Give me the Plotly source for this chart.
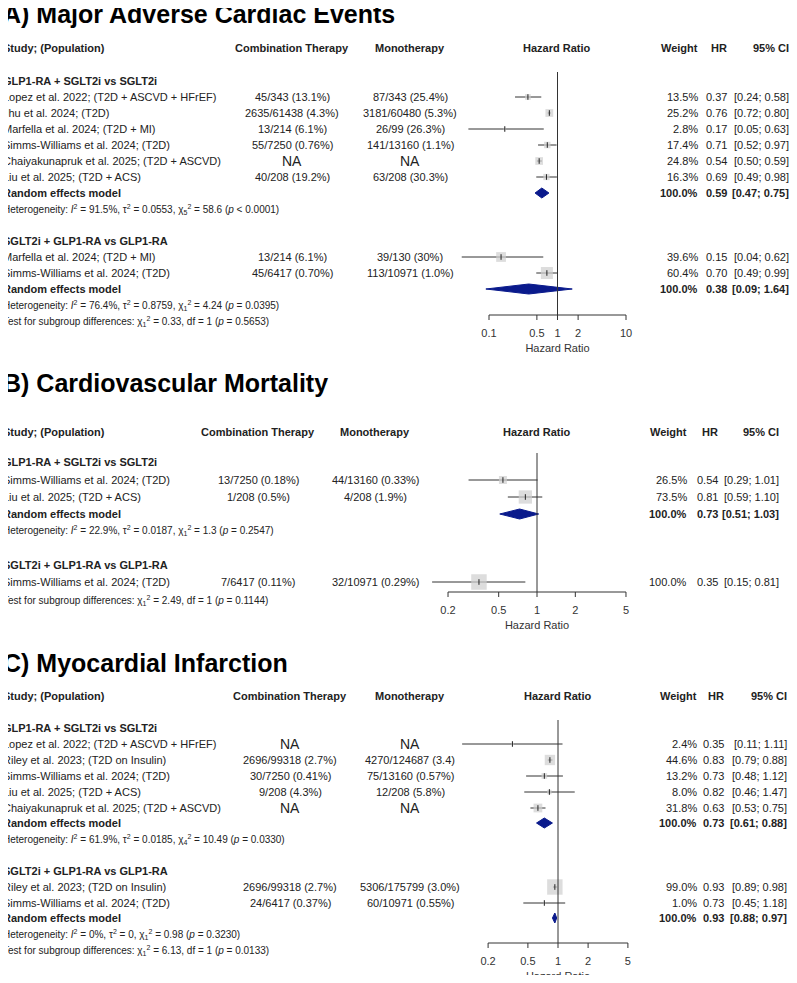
import numpy as np
import plotly.graph_objects as go

W, H = 797, 983
OFF = 8  # browser body margin

# ---------------- data ----------------
# A) MACE
a_g1_study = ["Lopez et al. 2022; (T2D + ASCVD + HFrEF)", "Jhu et al. 2024; (T2D)", "Marfella et al. 2024; (T2D + MI)",
              "Simms-Williams et al. 2024; (T2D)", "Chaiyakunapruk et al. 2025; (T2D + ASCVD)", "Liu et al. 2025; (T2D + ACS)"]
a_g1_combo = ["45/343 (13.1%)", "2635/61438 (4.3%)", "13/214 (6.1%)", "55/7250 (0.76%)", "NA", "40/208 (19.2%)"]
a_g1_mono = ["87/343 (25.4%)", "3181/60480 (5.3%)", "26/99 (26.3%)", "141/13160 (1.1%)", "NA", "63/208 (30.3%)"]
a_g1_w = [13.5, 25.2, 2.8, 17.4, 24.8, 16.3]
a_g1_hr = [0.37, 0.76, 0.17, 0.71, 0.54, 0.69]
a_g1_lo = [0.24, 0.72, 0.05, 0.52, 0.50, 0.49]
a_g1_hi = [0.58, 0.80, 0.63, 0.97, 0.59, 0.98]
a_g1_re = [0.59, 0.47, 0.75]
a_g2_study = ["Marfella et al. 2024; (T2D + MI)", "Simms-Williams et al. 2024; (T2D)"]
a_g2_combo = ["13/214 (6.1%)", "45/6417 (0.70%)"]
a_g2_mono = ["39/130 (30%)", "113/10971 (1.0%)"]
a_g2_w = [39.6, 60.4]
a_g2_hr = [0.15, 0.70]
a_g2_lo = [0.04, 0.49]
a_g2_hi = [0.62, 0.99]
a_g2_re = [0.38, 0.09, 1.64]
a_ticks = [0.1, 0.5, 1, 2, 10]

# B) CV mortality
b_g1_study = ["Simms-Williams et al. 2024; (T2D)", "Liu et al. 2025; (T2D + ACS)"]
b_g1_combo = ["13/7250 (0.18%)", "1/208 (0.5%)"]
b_g1_mono = ["44/13160 (0.33%)", "4/208 (1.9%)"]
b_g1_w = [26.5, 73.5]
b_g1_hr = [0.54, 0.81]
b_g1_lo = [0.29, 0.59]
b_g1_hi = [1.01, 1.10]
b_g1_re = [0.73, 0.51, 1.03]
b_g2_study = ["Simms-Williams et al. 2024; (T2D)"]
b_g2_combo = ["7/6417 (0.11%)"]
b_g2_mono = ["32/10971 (0.29%)"]
b_g2_w = [100.0]
b_g2_hr = [0.35]
b_g2_lo = [0.15]
b_g2_hi = [0.81]
b_ticks = [0.2, 0.5, 1, 2, 5]

# C) MI
c_g1_study = ["Lopez et al. 2022; (T2D + ASCVD + HFrEF)", "Riley et al. 2023; (T2D on Insulin)", "Simms-Williams et al. 2024; (T2D)",
              "Liu et al. 2025; (T2D + ACS)", "Chaiyakunapruk et al. 2025; (T2D + ASCVD)"]
c_g1_combo = ["NA", "2696/99318 (2.7%)", "30/7250 (0.41%)", "9/208 (4.3%)", "NA"]
c_g1_mono = ["NA", "4270/124687 (3.4)", "75/13160 (0.57%)", "12/208 (5.8%)", "NA"]
c_g1_w = [2.4, 44.6, 13.2, 8.0, 31.8]
c_g1_hr = [0.35, 0.83, 0.73, 0.82, 0.63]
c_g1_lo = [0.11, 0.79, 0.48, 0.46, 0.53]
c_g1_hi = [1.11, 0.88, 1.12, 1.47, 0.75]
c_g1_re = [0.73, 0.61, 0.88]
c_g2_study = ["Riley et al. 2023; (T2D on Insulin)", "Simms-Williams et al. 2024; (T2D)"]
c_g2_combo = ["2696/99318 (2.7%)", "24/6417 (0.37%)"]
c_g2_mono = ["5306/175799 (3.0%)", "60/10971 (0.55%)"]
c_g2_w = [99.0, 1.0]
c_g2_hr = [0.93, 0.73]
c_g2_lo = [0.89, 0.45]
c_g2_hi = [0.98, 1.18]
c_g2_re = [0.93, 0.88, 0.97]
c_ticks = [0.2, 0.5, 1, 2, 5]

g1_label = "GLP1-RA + SGLT2i vs SGLT2i"
g2_label = "SGLT2i + GLP1-RA vs GLP1-RA"

# ---------------- layout helpers ----------------
FONT = "Liberation Sans, Arial"
NAVY = "#0a1a8c"
FW, FH = W - 2 * OFF, H - 2 * OFF
fig = go.Figure()
ann = []


def px(x):
    return (x - OFF) / FW


def txt(x, y, s, anchor="left", bold=False, size=11, color="#222"):
    if bold:
        s = "<b>" + s + "</b>"
    ann.append(dict(x=px(x), y=y, xref="paper", yref="y", text=s, showarrow=False, xanchor=anchor,
                    yanchor="middle", borderpad=0, font=dict(family=FONT, size=size, color=color)))


def het(I2, tau, df, chi, p):
    return ("Heterogeneity: <i>I</i><sup>2</sup> = %s, τ<sup>2</sup> = %s, χ<sub>%s</sub><sup>2</sup> = %s (<i>p</i> %s)"
            % (I2, tau, df, chi, p))


def study_rows(xa, rows, study, combo, mono, w, hr, lo, hi, cols):
    ci_x, ci_y = [], []
    for i, y in enumerate(rows):
        txt(2, y, study[i])
        for val, cx in ((combo[i], cols["combo"]), (mono[i], cols["mono"])):
            txt(cx, y, val, "center", size=14 if val == "NA" else 11)
        txt(cols["w"], y, "%.1f%%" % w[i], "right")
        txt(cols["hr"], y, "%.2f" % hr[i], "right")
        txt(cols["ci"], y, "[%.2f; %.2f]" % (lo[i], hi[i]), "right")
        ci_x += [lo[i], hi[i], None]
        ci_y += [y, y, None]
    sizes = [max(2, 1.55 * np.sqrt(v)) for v in w]
    fig.add_trace(go.Scatter(x=ci_x, y=ci_y, xaxis=xa, mode="lines", line=dict(color="#333", width=1),
                             hoverinfo="skip"))
    fig.add_trace(go.Scatter(x=hr, y=rows, xaxis=xa, mode="markers",
                             marker=dict(symbol="square", size=sizes, color="#cfcfcf", line=dict(width=0)),
                             hoverinfo="skip"))
    fig.add_trace(go.Scatter(x=hr, y=rows, xaxis=xa, mode="markers",
                             marker=dict(symbol="line-ns", size=4, line=dict(color="#222", width=1)),
                             hoverinfo="skip"))


def re_row(xa, y, re, cols):
    txt(2, y, "Random effects model", bold=True)
    txt(cols["w"], y, "100.0%", "right", bold=True)
    txt(cols["hr"], y, "%.2f" % re[0], "right", bold=True)
    txt(cols["ci"], y, "[%.2f; %.2f]" % (re[1], re[2]), "right", bold=True)
    fig.add_trace(go.Scatter(x=[re[1], re[0], re[2], re[0], re[1]], y=[y, y - 5, y, y + 5, y], xaxis=xa,
                             mode="lines", fill="toself", fillcolor=NAVY, line=dict(color=NAVY, width=1),
                             hoverinfo="skip"))


def axis(xa, ticks, yax, ytop):
    fig.add_trace(go.Scatter(x=[1, 1], y=[ytop, yax], xaxis=xa, mode="lines",
                             line=dict(color="#333", width=1), hoverinfo="skip"))
    tx, ty = [ticks[0], ticks[-1], None], [yax, yax, None]
    for t in ticks:
        tx += [t, t, None]
        ty += [yax, yax + 5, None]
    fig.add_trace(go.Scatter(x=tx, y=ty, xaxis=xa, mode="lines", line=dict(color="#333", width=1),
                             hoverinfo="skip"))
    fig.add_trace(go.Scatter(x=ticks, y=[yax + 19] * len(ticks), xaxis=xa, mode="text",
                             text=[("%g" % t) for t in ticks], textfont=dict(family=FONT, size=11, color="#333"),
                             hoverinfo="skip"))
    fig.add_trace(go.Scatter(x=[1], y=[yax + 34], xaxis=xa, mode="text", text=["Hazard Ratio"],
                             textfont=dict(family=FONT, size=11, color="#333"), hoverinfo="skip"))


def header(y, cols, hrx):
    txt(2, y, "Study; (Population)", bold=True)
    txt(cols["combo"], y, "Combination Therapy", "center", bold=True)
    txt(cols["mono"], y, "Monotherapy", "center", bold=True)
    txt(hrx, y, "Hazard Ratio", "center", bold=True)
    txt(cols["w"], y, "Weight", "right", bold=True)
    txt(cols["hr"], y, "HR", "right", bold=True)
    txt(cols["ci"], y, "95% CI", "right", bold=True)


# ---------------- panel A ----------------
colsA = dict(combo=292, mono=410, w=699, hr=728, ci=790)
txt(2, 14, "A) Major Adverse Cardiac Events", bold=True, size=25, color="#000")
header(48, colsA, 557)
txt(2, 81, g1_label, bold=True)
study_rows("x", [97, 113, 129, 145, 161, 177], a_g1_study, a_g1_combo, a_g1_mono, a_g1_w, a_g1_hr, a_g1_lo, a_g1_hi, colsA)
re_row("x", 193, a_g1_re, colsA)
txt(2, 209, het("91.5%", "0.0553", 5, "58.6", "< 0.0001"), size=10)
txt(2, 241, g2_label, bold=True)
study_rows("x", [257, 273], a_g2_study, a_g2_combo, a_g2_mono, a_g2_w, a_g2_hr, a_g2_lo, a_g2_hi, colsA)
re_row("x", 289, a_g2_re, colsA)
txt(2, 305, het("76.4%", "0.8759", 1, "4.24", "= 0.0395"), size=10)
txt(2, 321, "Test for subgroup differences: χ<sub>1</sub><sup>2</sup> = 0.33, df = 1 (<i>p</i> = 0.5653)", size=10)
axis("x", a_ticks, 315, 72)

# ---------------- panel B ----------------
colsB = dict(combo=258, mono=375, w=688, hr=719, ci=780)
txt(2, 383, "B) Cardiovascular Mortality", bold=True, size=25, color="#000")
header(432, colsB, 537)
txt(2, 462, g1_label, bold=True)
study_rows("x2", [480, 497], b_g1_study, b_g1_combo, b_g1_mono, b_g1_w, b_g1_hr, b_g1_lo, b_g1_hi, colsB)
re_row("x2", 514, b_g1_re, colsB)
txt(2, 530, het("22.9%", "0.0187", 1, "1.3", "= 0.2547"), size=10)
txt(2, 565, g2_label, bold=True)
study_rows("x2", [582], b_g2_study, b_g2_combo, b_g2_mono, b_g2_w, b_g2_hr, b_g2_lo, b_g2_hi, colsB)
txt(2, 600, "Test for subgroup differences: χ<sub>1</sub><sup>2</sup> = 2.49, df = 1 (<i>p</i> = 0.1144)", size=10)
axis("x2", b_ticks, 592, 453)

# ---------------- panel C ----------------
colsC = dict(combo=290, mono=410, w=698, hr=725, ci=788)
txt(2, 663, "C) Myocardial Infarction", bold=True, size=25, color="#000")
header(696, colsC, 558)
txt(2, 728, g1_label, bold=True)
study_rows("x3", [744, 760, 776, 792, 808], c_g1_study, c_g1_combo, c_g1_mono, c_g1_w, c_g1_hr, c_g1_lo, c_g1_hi, colsC)
re_row("x3", 823, c_g1_re, colsC)
txt(2, 839, het("61.9%", "0.0185", 4, "10.49", "= 0.0330"), size=10)
txt(2, 871, g2_label, bold=True)
study_rows("x3", [887, 903], c_g2_study, c_g2_combo, c_g2_mono, c_g2_w, c_g2_hr, c_g2_lo, c_g2_hi, colsC)
re_row("x3", 918, c_g2_re, colsC)
txt(2, 934, het("0%", "0", 1, "0.98", "= 0.3230"), size=10)
txt(2, 950, "Test for subgroup differences: χ<sub>1</sub><sup>2</sup> = 6.13, df = 1 (<i>p</i> = 0.0133)", size=10)
axis("x3", c_ticks, 943, 720)


# x-axes: pixel domain [430, 700], log scale fixed by px per decade and position of HR = 1
def xax(one_px, px_per_dec):
    lo, hi = 430, 700
    return dict(domain=[px(lo), px(hi)], type="log", visible=False, anchor="y",
                range=[(lo - one_px) / px_per_dec, (hi - one_px) / px_per_dec])


fig.update_layout(
    width=FW, height=FH, margin=dict(l=0, r=0, t=0, b=0), showlegend=False,
    plot_bgcolor="rgba(0,0,0,0)", paper_bgcolor="white",
    xaxis=xax(557.5, 68.5), xaxis2=xax(537, 127.3), xaxis3=xax(558, 100.0),
    yaxis=dict(domain=[0, 1], range=[H - OFF, OFF], visible=False),
    annotations=ann,
)
fig.write_html("out.html")
